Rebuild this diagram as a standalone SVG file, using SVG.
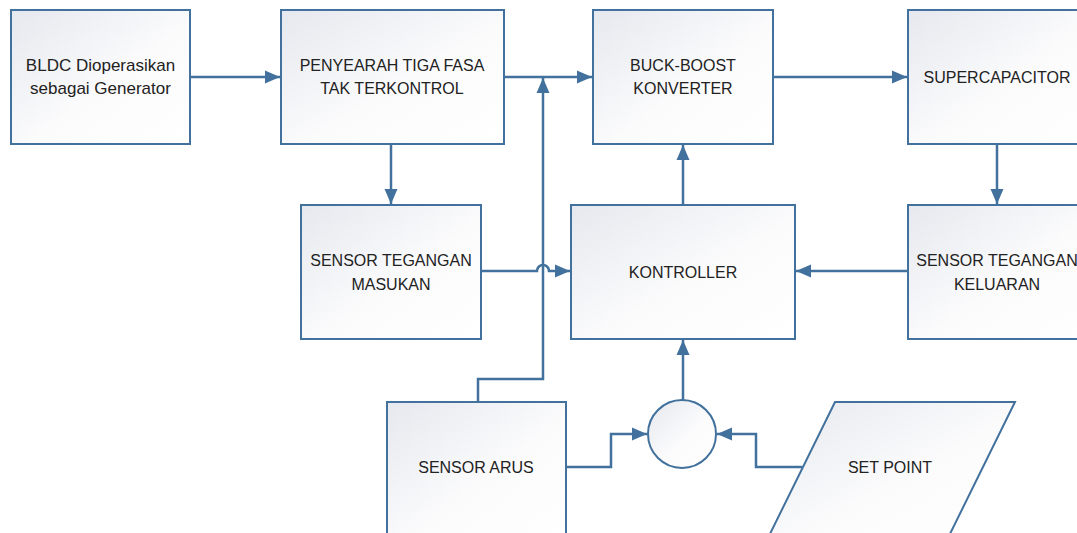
<svg xmlns="http://www.w3.org/2000/svg" width="1077" height="533" viewBox="0 0 1077 533">
<style>
.box{fill:url(#g);stroke:#41719c;stroke-width:2}
.t{font-family:"Liberation Sans",Arial,sans-serif;font-size:16px;fill:#222;text-anchor:middle}
.l{font-size:17px}
.c{fill:none;stroke:#41719c;stroke-width:2.5}
</style>
<defs>
<linearGradient id="g" x1="0" y1="0" x2="1" y2="1">
<stop offset="0" stop-color="#e5e8ee"/>
<stop offset="0.55" stop-color="#fbfbfc"/>
<stop offset="1" stop-color="#ffffff"/>
</linearGradient>
<marker id="a" markerUnits="userSpaceOnUse" markerWidth="16" markerHeight="16" refX="15" refY="8" orient="auto">
<path d="M0,1.5 L15,8 L0,14.5 Z" fill="#41719c"/>
</marker>
</defs>
<rect width="1077" height="533" fill="#fff"/>
<g id="bldc"><rect class="box" x="11" y="10" width="179" height="134"/><text class="t l" x="100.5" y="71">BLDC Dioperasikan</text><text class="t l" x="100.5" y="94">sebagai Generator</text></g>
<g id="penyearah"><rect class="box" x="281" y="10" width="223" height="134"/><text class="t" x="392" y="71">PENYEARAH TIGA FASA</text><text class="t" x="392" y="94">TAK TERKONTROL</text></g>
<g id="buckboost"><rect class="box" x="593" y="10" width="180" height="134"/><text class="t" x="683" y="71">BUCK-BOOST</text><text class="t" x="683" y="94">KONVERTER</text></g>
<g id="supercap"><rect class="box" x="908" y="10" width="180" height="134"/><text class="t" x="997" y="83">SUPERCAPACITOR</text></g>
<g id="sensormasukan"><rect class="box" x="301" y="205" width="180" height="134"/><text class="t" x="391" y="266">SENSOR TEGANGAN</text><text class="t" x="391" y="290">MASUKAN</text></g>
<g id="kontroller"><rect class="box" x="571" y="205" width="224" height="134"/><text class="t" x="683" y="278">KONTROLLER</text></g>
<g id="sensorkeluaran"><rect class="box" x="908" y="205" width="180" height="134"/><text class="t" x="997" y="266">SENSOR TEGANGAN</text><text class="t" x="997" y="290">KELUARAN</text></g>
<g id="sensorarus"><rect class="box" x="387" y="402" width="179" height="140"/><text class="t" x="476" y="473">SENSOR ARUS</text></g>
<g id="sum"><circle class="box" cx="682" cy="434" r="34"/></g>
<g id="setpoint"><path class="box" d="M835,402 L1015,402 L946,542 L766,542 Z"/><text class="t" x="890" y="473">SET POINT</text></g>
<g id="connectors">
<path class="c" d="M190,77 L280,77" marker-end="url(#a)"/>
<path class="c" d="M504,77 L592,77" marker-end="url(#a)"/>
<path class="c" d="M773,77 L907,77" marker-end="url(#a)"/>
<path class="c" d="M391,144 L391,204" marker-end="url(#a)"/>
<path class="c" d="M997,144 L997,204" marker-end="url(#a)"/>
<path class="c" d="M683,205 L683,145" marker-end="url(#a)"/>
<path class="c" d="M908,271 L796,271" marker-end="url(#a)"/>
<path class="c" d="M481,271 L537,271 A6,6 0 0 1 549,271 L570,271" marker-end="url(#a)"/>
<path class="c" d="M478,402 L478,379 L543,379 L543,78" marker-end="url(#a)"/>
<path class="c" d="M683,400 L683,340" marker-end="url(#a)"/>
<path class="c" d="M566,467 L611,467 L611,434 L647,434" marker-end="url(#a)"/>
<path class="c" d="M802,467 L756,467 L756,434 L717,434" marker-end="url(#a)"/>
</g>
</svg>
